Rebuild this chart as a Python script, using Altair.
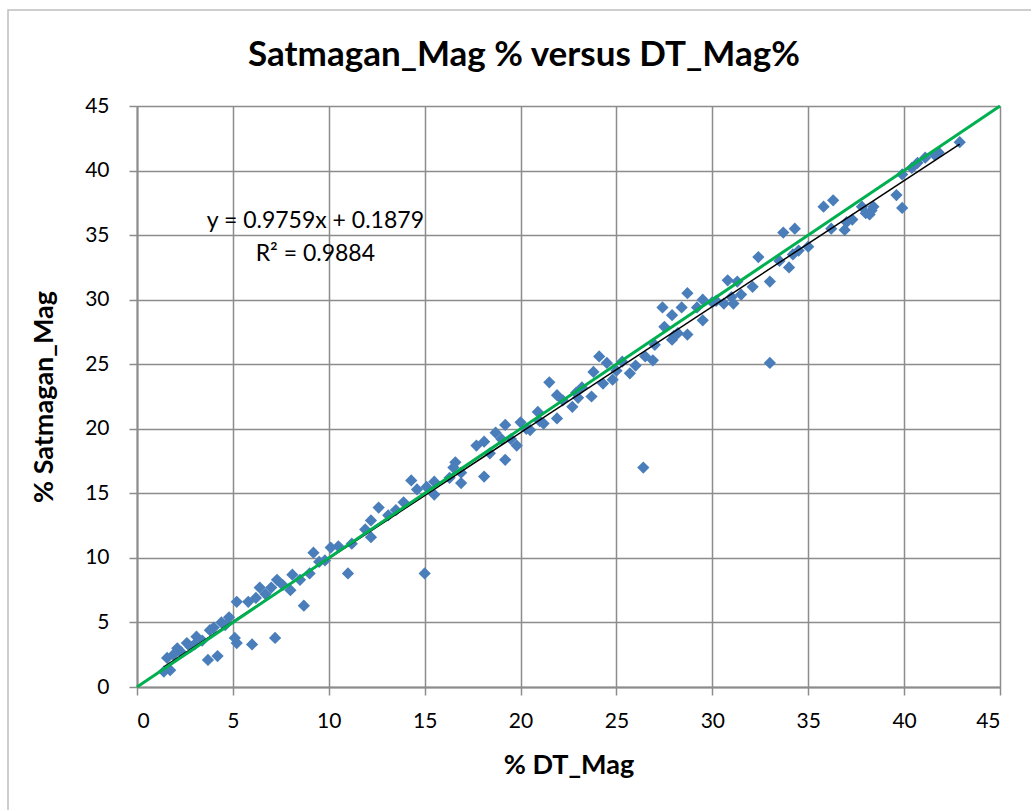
import altair as alt
import pandas as pd

# Paired magnetite assays: DT_Mag (%) vs Satmagan_Mag (%)
dt_mag = [
    1.4, 1.57, 1.73, 1.9, 2.1, 2.3, 2.6, 2.8, 3.0, 3.1, 3.4, 3.8, 3.7, 4.0, 4.2, 4.4,
    4.6, 4.8, 5.1, 5.2, 5.2, 6.0, 5.8, 6.2, 6.4, 6.7, 7.2, 7.0, 7.3, 7.6, 8.0, 8.1,
    8.5, 8.7, 9.0, 9.2, 9.5, 9.8, 10.1, 10.5, 11.0, 11.2, 11.9, 12.2, 12.2, 12.6,
    13.1, 13.5, 13.9, 14.3, 14.6, 15.0, 15.1, 15.5, 15.5, 16.3, 16.5, 16.6, 16.9,
    16.9, 17.7, 18.1, 18.1, 18.4, 18.7, 19.0, 19.2, 19.2, 19.5, 19.8, 20.0, 20.3,
    20.5, 20.9, 21.0, 21.2, 21.5, 21.9, 21.9, 22.2, 22.7, 22.9, 23.0, 23.2, 23.7,
    23.8, 24.1, 24.3, 24.5, 24.8, 25.0, 25.3, 25.7, 26.0, 26.4, 26.5, 26.9, 27.0,
    27.4, 27.5, 27.9, 27.9, 28.0, 28.2, 28.4, 28.7, 28.7, 29.2, 29.5, 29.5, 30.0,
    30.2, 30.6, 30.8, 31.0, 31.1, 31.3, 31.5, 32.1, 32.4, 33.0, 33.0, 33.5, 33.7,
    34.0, 34.2, 34.3, 34.5, 35.0, 35.8, 36.2, 36.3, 36.9, 37.0, 37.3, 37.8, 38.0,
    38.2, 38.3, 38.4, 39.6, 39.9, 39.9, 40.4, 40.7, 41.1, 41.6, 41.8, 42.9,
]
satmagan_mag = [
    1.2, 2.25, 1.3, 2.5, 3.0, 2.7, 3.4, 3.1, 3.3, 3.9, 3.6, 4.4, 2.1, 4.6, 2.4, 5.0,
    4.8, 5.4, 3.8, 3.4, 6.6, 3.3, 6.6, 6.9, 7.7, 7.2, 3.8, 7.7, 8.3, 7.9, 7.5, 8.7,
    8.3, 6.3, 8.8, 10.4, 9.7, 9.8, 10.8, 10.9, 8.8, 11.1, 12.2, 11.6, 12.9, 13.9,
    13.3, 13.7, 14.3, 16.0, 15.3, 8.8, 15.5, 15.9, 14.9, 16.2, 17.0, 17.4, 16.6,
    15.8, 18.7, 19.0, 16.3, 18.1, 19.7, 19.2, 20.3, 17.6, 19.2, 18.7, 20.5, 20.0,
    19.9, 21.3, 20.6, 20.4, 23.6, 20.8, 22.6, 22.2, 21.7, 22.8, 22.4, 23.2, 22.5,
    24.4, 25.6, 23.5, 25.1, 23.8, 24.5, 25.2, 24.3, 24.9, 17.0, 25.6, 25.3, 26.5,
    29.4, 27.9, 28.8, 26.9, 27.2, 27.4, 29.4, 30.5, 27.3, 29.4, 28.4, 30.0, 29.8,
    29.9, 29.7, 31.5, 30.2, 29.7, 31.4, 30.4, 31.0, 33.3, 31.4, 25.1, 33.0, 35.2,
    32.5, 33.5, 35.5, 33.8, 34.1, 37.2, 35.5, 37.7, 35.4, 36.0, 36.2, 37.2, 36.7,
    36.6, 36.9, 37.2, 38.1, 39.7, 37.1, 40.2, 40.6, 41.0, 41.2, 41.4, 42.2,
]

# Linear trendline coefficients as printed on the chart
slope = 0.9759
intercept = 0.1879
r_squared = 0.9884

# 1:1 reference line
ref_x = [0, 45]

axis_ticks = list(range(0, 46, 5))
chart_title = "Satmagan_Mag % versus DT_Mag%"
FONT = "Lato"

points = pd.DataFrame({"dt": dt_mag, "sat": satmagan_mag})
trend = pd.DataFrame({"dt": [min(dt_mag), max(dt_mag)]})
trend["sat"] = slope * trend["dt"] + intercept
ref = pd.DataFrame({"dt": ref_x, "sat": ref_x})
label = pd.DataFrame({
    "dt": [9.3, 9.3],
    "sat": [36.1, 33.5],
    "text": [f"y = {slope}x + {intercept}", f"R\u00b2 = {r_squared}"],
})

x_scale = alt.Scale(domain=[0, 45], nice=False)
y_scale = alt.Scale(domain=[0, 45], nice=False)

common_axis = dict(
    values=axis_ticks, grid=True,
    gridColor="#8c8c8c", gridWidth=1.5,
    domainColor="#8c8c8c", domainWidth=2,
    tickColor="#8c8c8c", tickWidth=1.5, tickSize=8,
    labelFont=FONT, labelFontSize=21, labelColor="black",
    titleFont=FONT, titleFontSize=27, titleFontWeight="bold", titleColor="black",
)
x_axis = alt.Axis(title="% DT_Mag", labelPadding=15, titlePadding=21, **common_axis)
y_axis = alt.Axis(title="% Satmagan_Mag", labelPadding=20, titlePadding=26, **common_axis)

one_row = pd.DataFrame({"k": [0]})

# outer chart-area frame
frame = alt.Chart(one_row).mark_rect(
    fill=None, stroke="#bfbfbf", strokeWidth=1.5, clip=False
).encode(
    x=alt.value(-129), x2=alt.value(905), y=alt.value(-96), y2=alt.value(720)
)

title_text = alt.Chart(one_row).mark_text(
    text=chart_title, font=FONT, fontSize=35, fontWeight="bold", color="black",
    align="center", baseline="middle"
).encode(x=alt.value(387), y=alt.value(-51))

scatter = alt.Chart(points).mark_point(
    shape="diamond", filled=True, size=150, color="#4a7ebb", opacity=1
).encode(
    x=alt.X("dt:Q", scale=x_scale, axis=x_axis),
    y=alt.Y("sat:Q", scale=y_scale, axis=y_axis),
)

trend_line = alt.Chart(trend).mark_line(color="black", strokeWidth=1.5).encode(
    x=alt.X("dt:Q", scale=x_scale), y=alt.Y("sat:Q", scale=y_scale)
)

ref_line = alt.Chart(ref).mark_line(color="#00b050", strokeWidth=3).encode(
    x=alt.X("dt:Q", scale=x_scale), y=alt.Y("sat:Q", scale=y_scale)
)

eq_text = alt.Chart(label).mark_text(
    font=FONT, fontSize=23, color="black", align="center", baseline="middle"
).encode(
    x=alt.X("dt:Q", scale=x_scale), y=alt.Y("sat:Q", scale=y_scale), text="text:N"
)

chart = alt.layer(frame, title_text, scatter, trend_line, ref_line, eq_text).properties(
    width=863,
    height=581,
    autosize=alt.AutoSizeParams(type="none"),
    padding={"left": 137, "top": 106, "right": 31, "bottom": 123},
).configure_view(
    stroke="black", strokeWidth=1.5
).configure(background="white")

chart.save("out.html", embed_options={"renderer": "svg", "actions": False})
